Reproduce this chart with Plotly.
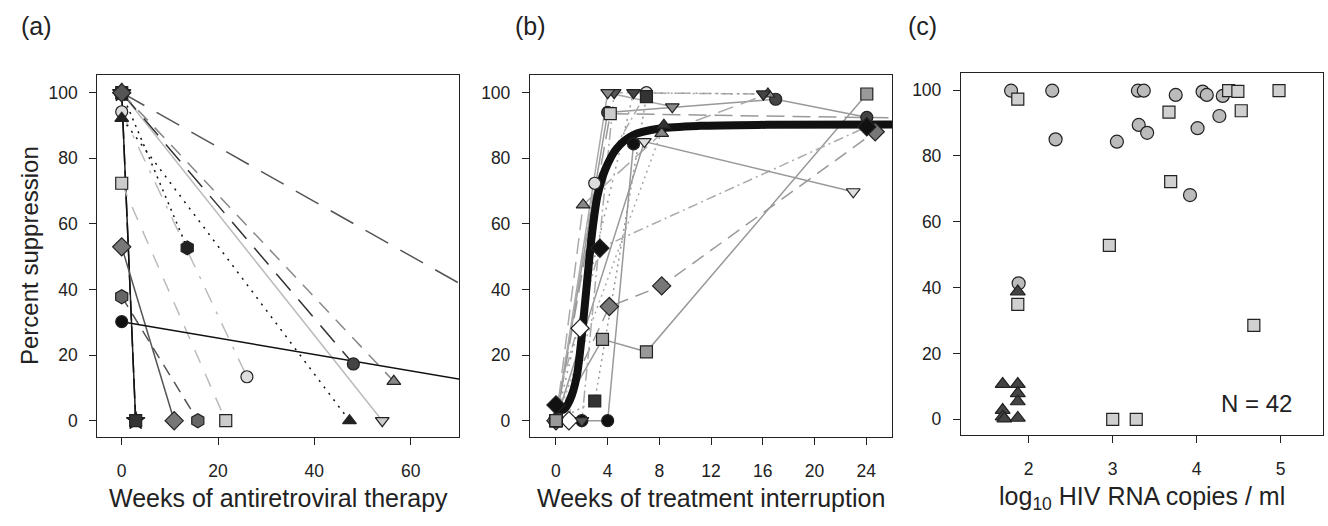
import plotly.graph_objects as go

W, H = 1328, 526
FONT = "Liberation Sans, Arial, sans-serif"

# ---------------- Panel (a): weeks of antiretroviral therapy ----------------
art_weeks = [[0, 2.9], [0, 2.9], [0, 10.9], [0, 15.8], [0, 21.6], [0, 26.0], [0, 13.6],
             [0, 47.3], [0, 54.1], [0, 48.1], [0, 56.5], [0, 120.6], [0, 120.8]]
art_supp = [[100, 0], [100, 0], [53, 0], [37.8, 0], [72.4, 0], [94.2, 13.4], [100, 52.7],
            [92.2, 0], [100, 0], [100, 17.3], [100, 12], [100, 0], [30.2, 0]]
art_symbol = ["star", "square", "diamond", "hexagon", "square", "circle", "hexagon",
              "triangle-up", "triangle-down", "circle", "triangle-up", "diamond", "circle"]
art_fill = ["#111111", "#333333", "#777777", "#666666", "#cccccc", "#dddddd", "#222222",
            "#222222", "#cccccc", "#444444", "#888888", "#555555", "#111111"]
art_line = ["#222222", "#111111", "#555555", "#555555", "#bbbbbb", "#bbbbbb", "#111111",
            "#111111", "#bbbbbb", "#333333", "#888888", "#555555", "#111111"]
art_dash = ["solid", "20px,6px", "solid", "12px,8px", "14px,12px", "16px,10px,3px,10px", "2px,5px",
            "2px,6px", "solid", "22px,12px", "14px,10px", "26px,14px", "solid"]

# ---------------- Panel (b): weeks of treatment interruption ----------------
ti_weeks = [[0, 3.6, 7.0, 24.05], [2.0, 4.0, 6.0], [0, 4.0, 17.0, 24.05], [0, 4.13, 8.18, 24.7],
            [0, 3.4, 24.05], [1.0, 1.86], [0, 2.1, 8.18, 16.4], [0, 3.0, 7.0],
            [0, 6.84, 23.0], [0, 3.0, 7.0], [0, 2.0, 4.5, 16.05], [0, 6.0, 16.05],
            [0, 4.0, 9.0], [0, 4.2, 26.5], [0, 8.35], [0, 0]]
ti_supp = [[0, 24.8, 21.0, 99.6], [0, 0, 84.4], [0, 94.0, 98.0, 92.5], [0, 34.8, 41.1, 88.1],
           [4.8, 52.6, 89.6], [0, 28.2], [0, 65.8, 87.6, 99.6], [0, 72.4, 100],
           [0, 85.1, 69.8], [0, 6.0, 98.8], [0, 0, 100, 99.6], [0, 100, 99.6],
           [0, 100, 95.7], [0, 93.6, 92.3], [0, 90.1], [0, 0]]
ti_symbol = ["square", "circle", "circle", "diamond", "diamond", "diamond", "triangle-up", "circle",
             "triangle-down", "square", "triangle-down", "triangle-down", "triangle-down", "square",
             "triangle-up", "square"]
ti_fill = ["#999999", "#111111", "#444444", "#777777", "#111111", "#ffffff", "#888888", "#dddddd",
           "#dddddd", "#333333", "#555555", "#444444", "#888888", "#cccccc", "#333333", "#999999"]
ti_line = ["#999999", "#999999", "#999999", "#999999", "#aaaaaa", "#aaaaaa", "#aaaaaa", "#aaaaaa",
           "#999999", "#999999", "#aaaaaa", "#999999", "#aaaaaa", "#999999", "#aaaaaa", "#999999"]
ti_dash = ["solid", "solid", "solid", "14px,8px", "10px,4px,2px,4px", "12px,6px", "16px,8px",
           "10px,4px,2px,4px", "solid", "2px,4px", "12px,4px,2px,4px", "2px,5px", "solid",
           "18px,8px", "2px,4px", "solid"]

# fitted curve
fit_weeks = [0, 0.57, 1.08, 1.6, 1.99, 2.37, 2.76, 3.2, 3.79, 4.7, 5.98, 8.05, 11.1, 16.3, 26.1]
fit_supp = [3.8, 3.3, 6.3, 13.4, 25.6, 40.9, 56.1, 68.3, 76.4, 83.0, 87.1, 89.1, 89.9, 90.2, 90.3]

# ---------------- Panel (c): log10 HIV RNA ----------------
circ_logrna = [1.79, 2.28, 2.32, 3.05, 3.30, 3.37, 3.31, 3.41, 3.75, 3.92, 4.01, 4.07, 4.12, 4.27, 4.31, 1.88]
circ_supp = [99.8, 99.8, 85.0, 84.3, 99.8, 99.8, 89.4, 87.0, 98.5, 68.1, 88.4, 99.5, 98.5, 92.1, 98.2, 41.3]
sq_logrna = [1.87, 1.87, 2.96, 3.00, 3.28, 3.67, 3.69, 4.38, 4.49, 4.53, 4.68, 4.98]
sq_supp = [97.2, 34.9, 52.8, 0, 0, 93.3, 72.2, 99.8, 99.6, 93.7, 28.5, 99.8]
tri_logrna = [1.87, 1.69, 1.87, 1.87, 1.87, 1.69, 1.69, 1.71, 1.87]
tri_supp = [38.8, 10.7, 10.7, 7.9, 5.4, 2.8, 0.8, 0.2, 0.4]

a_xticks = [0, 20, 40, 60]
b_xticks = [0, 4, 8, 12, 16, 20, 24]
c_xticks = [2, 3, 4, 5]
y_ticks = [0, 20, 40, 60, 80, 100]

fig = go.Figure()

def add_series(xs, ys, lcols, dashes, xa, ya):
    for x, y, lc, d in zip(xs, ys, lcols, dashes):
        fig.add_trace(go.Scatter(x=x, y=y, mode="lines", xaxis=xa, yaxis=ya,
                                 line=dict(color=lc, width=1.5, dash=d), hoverinfo="skip",
                                 showlegend=False))

def add_markers(xs, ys, syms, fills, xa, ya, size=12):
    for x, y, s, f in zip(xs, ys, syms, fills):
        fig.add_trace(go.Scatter(x=x, y=y, mode="markers", xaxis=xa, yaxis=ya,
                                 marker=dict(symbol=s, size=size + (2 if s in ("hexagon", "diamond", "star") else 0),
                                             color=f, line=dict(color="#222222", width=1.2)),
                                 showlegend=False, cliponaxis=False))

# panel a
add_series(art_weeks, art_supp, art_line, art_dash, "x", "y")
add_markers(art_weeks, art_supp, art_symbol, art_fill, "x", "y")

# panel b
add_series(ti_weeks, ti_supp, ti_line, ti_dash, "x2", "y2")
fig.add_trace(go.Scatter(x=fit_weeks, y=fit_supp, mode="lines", xaxis="x2", yaxis="y2",
                         line=dict(color="#111111", width=8, shape="spline", smoothing=0.8),
                         showlegend=False))
add_markers(ti_weeks, ti_supp, ti_symbol, ti_fill, "x2", "y2")

# panel c
for xs, ys, s, f in [(circ_logrna, circ_supp, "circle", "#bbbbbb"),
                     (sq_logrna, sq_supp, "square", "#d0d0d0"),
                     (tri_logrna, tri_supp, "triangle-up", "#444444")]:
    fig.add_trace(go.Scatter(x=xs, y=ys, mode="markers", xaxis="x3", yaxis="y3",
                             marker=dict(symbol=s, size=13 if s != "square" else 12, color=f,
                                         line=dict(color="#222222", width=1.2)),
                             showlegend=False, cliponaxis=False))

def dx(a, b):
    return [a / W, b / W]

def dy(top, bot):
    return [1 - bot / H, 1 - top / H]

axis_common = dict(showline=True, linecolor="#222222", linewidth=1.3, mirror=True,
                   ticks="outside", ticklen=7, tickwidth=1.2, tickcolor="#222222",
                   showgrid=False, zeroline=False,
                   tickfont=dict(family=FONT, size=17.5, color="#222222"))

fig.update_layout(
    width=W, height=H, margin=dict(l=0, r=0, t=0, b=0, autoexpand=False),
    paper_bgcolor="white", plot_bgcolor="white", showlegend=False,
    xaxis=dict(domain=dx(97.3, 459.3), range=[-5.07, 70.1], tickvals=a_xticks, anchor="y",
               ticklabelstandoff=11, **axis_common),
    yaxis=dict(domain=dy(75, 437.3), range=[-5.06, 105.4], tickvals=y_ticks, anchor="x",
               ticklabelstandoff=8, **axis_common),
    xaxis2=dict(domain=dx(530, 892), range=[-2.01, 26.0], tickvals=b_xticks, anchor="y2",
                ticklabelstandoff=11, **axis_common),
    yaxis2=dict(domain=dy(75, 437.3), range=[-5.06, 105.4], tickvals=y_ticks, anchor="x2",
                ticklabelstandoff=8, **axis_common),
    xaxis3=dict(domain=dx(961, 1323.3), range=[1.194, 5.507], tickvals=c_xticks, anchor="y3",
                ticklabelstandoff=11, **axis_common),
    yaxis3=dict(domain=dy(73.3, 435), range=[-4.77, 105.07], tickvals=y_ticks, anchor="x3",
                ticklabelstandoff=8, **axis_common),
)

def ann(text, xpx, ypx, size, angle=0):
    fig.add_annotation(text=text, x=xpx / W, y=1 - ypx / H, xref="paper", yref="paper",
                       showarrow=False, textangle=angle, xanchor="center", yanchor="middle",
                       font=dict(family=FONT, size=size, color="#222222"))

ann("(a)", 36, 26, 25)
ann("(b)", 530, 26, 25)
ann("(c)", 922, 26, 25)
ann("Percent suppression", 30, 256, 24, angle=-90)
ann("Weeks of antiretroviral therapy", 278, 498, 25)
ann("Weeks of treatment interruption", 711, 498, 25)
ann("log<sub>10</sub> HIV RNA copies / ml", 1142, 498, 25)
ann("N = 42", 1256, 403, 24)

fig.write_html("out.html", config={"displayModeBar": False},
               post_script="document.body.style.margin='0';document.body.style.overflow='hidden';")
